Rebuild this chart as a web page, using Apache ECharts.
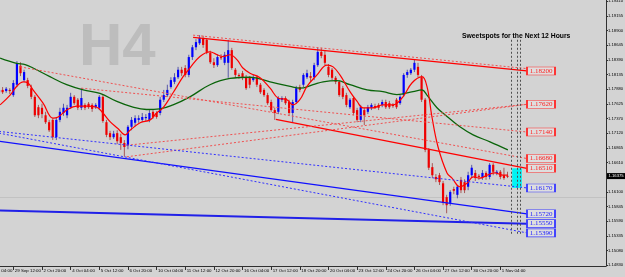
<!DOCTYPE html>
<html><head><meta charset="utf-8">
<script src="https://cdn.jsdelivr.net/npm/echarts@6/dist/echarts.min.js"></script>
<style>html,body{margin:0;padding:0;background:#d3d3d3;}#c{width:625px;height:277px;}</style>
</head><body><div id="c"></div>
<script>
// ---- axis ticks ----
const xTickBars = [0,8,16,24,32,40,48,56,64,72,80,88,96,104,112,120,128,136,144];
const xTickLabels = ['28 Sep 04:00','29 Sep 12:00','2 Oct 20:00','4 Oct 04:00','5 Oct 12:00','6 Oct 20:00','10 Oct 04:00','11 Oct 12:00','12 Oct 20:00','16 Oct 04:00','17 Oct 12:00','18 Oct 20:00','20 Oct 04:00','23 Oct 12:00','24 Oct 20:00','26 Oct 04:00','27 Oct 12:00','30 Oct 20:00','1 Nov 04:00'];
const yTickLabels = ['1.14830','1.15080','1.15335','1.15590','1.15845','1.16100','1.16355','1.16610','1.16865','1.17120','1.17370','1.17625','1.17880','1.18135','1.18390','1.18645','1.18900','1.19155','1.19410'];

// ---- H4 candles (bar index starts at FIRST_BAR) ----
const FIRST_BAR = 4;
const opens = [
1.1783,1.1787,1.1785,1.1787,1.1778,1.1796,1.1829,1.1804,1.1804,1.1790,
1.1775,1.1757,1.1756,1.1743,1.1731,1.1735,1.1705,1.1735,1.1747,1.1743,
1.1757,1.1775,1.1770,1.1756,1.1761,1.1763,1.1761,1.1757,1.1756,1.1775,
1.1731,1.1712,1.1705,1.1712,1.1705,1.1695,1.1691,1.1723,1.1730,1.1735,
1.1735,1.1738,1.1735,1.1749,1.1747,1.1747,1.1770,1.1778,1.1792,1.1801,
1.1809,1.1822,1.1825,1.1813,1.1844,1.1861,1.1868,1.1877,1.1874,1.1851,
1.1835,1.1830,1.1844,1.1834,1.1834,1.1856,1.1822,1.1813,1.1816,1.1809,
1.1808,1.1804,1.1809,1.1796,1.1787,1.1778,1.1766,1.1752,1.1749,1.1770,
1.1773,1.1766,1.1747,1.1766,1.1792,1.1796,1.1809,1.1811,1.1809,1.1830,
1.1853,1.1848,1.1827,1.1822,1.1808,1.1801,1.1790,1.1778,1.1757,1.1773,
1.1752,1.1735,1.1752,1.1749,1.1756,1.1759,1.1761,1.1761,1.1766,1.1764,
1.1761,1.1770,1.1764,1.1778,1.1813,1.1816,1.1822,1.1827,1.1809,1.1770,
1.1683,1.1653,1.1636,1.1639,1.1625,1.1601,1.1591,1.1615,1.1605,1.1631,
1.1627,1.1619,1.1639,1.1643,1.1638,1.1636,1.1643,1.1636,1.1657,1.1643,
1.1645,1.1639,1.1638];
const closes = [
1.1787,1.1783,1.1789,1.1785,1.1799,1.1832,1.1816,1.1818,1.1794,1.1775,
1.1743,1.1743,1.1745,1.1731,1.1717,1.1705,1.1735,1.1749,1.1756,1.1756,
1.1775,1.1764,1.1756,1.1773,1.1756,1.1757,1.1754,1.1761,1.1775,1.1733,
1.1709,1.1705,1.1711,1.1698,1.1695,1.1688,1.1723,1.1735,1.1738,1.1738,
1.1740,1.1740,1.1747,1.1740,1.1740,1.1770,1.1778,1.1787,1.1804,1.1809,
1.1822,1.1816,1.1813,1.1844,1.1861,1.1870,1.1877,1.1865,1.1853,1.1835,
1.1830,1.1844,1.1842,1.1848,1.1856,1.1825,1.1813,1.1811,1.1808,1.1790,
1.1796,1.1809,1.1796,1.1783,1.1778,1.1764,1.1752,1.1747,1.1773,1.1773,
1.1764,1.1747,1.1766,1.1790,1.1787,1.1813,1.1816,1.1808,1.1830,1.1853,
1.1846,1.1834,1.1813,1.1808,1.1801,1.1778,1.1775,1.1761,1.1770,1.1747,
1.1735,1.1757,1.1743,1.1757,1.1761,1.1757,1.1756,1.1766,1.1757,1.1757,
1.1759,1.1757,1.1775,1.1813,1.1818,1.1822,1.1834,1.1813,1.1770,1.1683,
1.1652,1.1639,1.1632,1.1627,1.1591,1.1587,1.1610,1.1612,1.1619,1.1613,
1.1613,1.1639,1.1652,1.1634,1.1636,1.1643,1.1636,1.1657,1.1645,1.1645,
1.1636,1.1634,1.16375];
const lows = [
1.1778,1.1780,1.1782,1.1780,1.1775,1.1792,1.1811,1.1801,1.1790,1.1771,
1.1740,1.1738,1.1738,1.1728,1.1714,1.1700,1.1700,1.1731,1.1742,1.1738,
1.1754,1.1761,1.1752,1.1752,1.1752,1.1754,1.1749,1.1754,1.1752,1.1730,
1.1705,1.1700,1.1702,1.1693,1.1683,1.1671,1.1684,1.1717,1.1724,1.1730,
1.1731,1.1733,1.1731,1.1737,1.1737,1.1743,1.1766,1.1775,1.1789,1.1797,
1.1806,1.1811,1.1809,1.1809,1.1839,1.1856,1.1865,1.1860,1.1849,1.1832,
1.1825,1.1827,1.1839,1.1830,1.1808,1.1822,1.1808,1.1806,1.1804,1.1787,
1.1790,1.1801,1.1792,1.1780,1.1775,1.1761,1.1749,1.1735,1.1745,1.1766,
1.1761,1.1743,1.1731,1.1763,1.1783,1.1792,1.1806,1.1801,1.1804,1.1827,
1.1842,1.1830,1.1809,1.1804,1.1797,1.1775,1.1771,1.1757,1.1754,1.1743,
1.1731,1.1731,1.1726,1.1745,1.1752,1.1754,1.1752,1.1757,1.1754,1.1754,
1.1756,1.1754,1.1761,1.1775,1.1808,1.1813,1.1818,1.1809,1.1766,1.1679,
1.1648,1.1634,1.1627,1.1622,1.1587,1.1573,1.1586,1.1606,1.1599,1.1608,
1.1608,1.1613,1.1634,1.1629,1.1631,1.1631,1.1631,1.1632,1.1639,1.1639,
1.1632,1.1631,1.1634];
const highs = [
1.1790,1.1792,1.1792,1.1790,1.1804,1.1837,1.1835,1.1822,1.1808,1.1796,
1.1778,1.1761,1.1763,1.1749,1.1735,1.1738,1.1740,1.1756,1.1763,1.1761,
1.1782,1.1778,1.1773,1.1790,1.1764,1.1766,1.1764,1.1764,1.1778,1.1778,
1.1735,1.1716,1.1716,1.1717,1.1711,1.1700,1.1726,1.1740,1.1743,1.1743,
1.1747,1.1745,1.1752,1.1752,1.1750,1.1775,1.1787,1.1796,1.1809,1.1816,
1.1827,1.1827,1.1830,1.1848,1.1865,1.1875,1.1882,1.1881,1.1877,1.1855,
1.1842,1.1849,1.1849,1.1853,1.1874,1.1860,1.1825,1.1816,1.1820,1.1813,
1.1811,1.1813,1.1813,1.1799,1.1790,1.1782,1.1770,1.1756,1.1776,1.1776,
1.1776,1.1770,1.1770,1.1794,1.1796,1.1816,1.1822,1.1818,1.1834,1.1860,
1.1860,1.1856,1.1832,1.1825,1.1811,1.1804,1.1794,1.1782,1.1773,1.1776,
1.1756,1.1761,1.1756,1.1761,1.1764,1.1763,1.1764,1.1770,1.1770,1.1768,
1.1764,1.1773,1.1778,1.1816,1.1822,1.1825,1.1839,1.1834,1.1813,1.1773,
1.1686,1.1660,1.1641,1.1643,1.1629,1.1605,1.1613,1.1619,1.1622,1.1636,
1.1632,1.1645,1.1657,1.1648,1.1641,1.1648,1.1646,1.1660,1.1660,1.1648,
1.1648,1.1652,1.1645];

// ---- moving averages (bar position, price) ----
const maFastBars = [4.3,7.1,8.9,10.8,12.1,13.5,16.3,19.1,20.5,22.9,25.7,28.5,31.3,33.0,35.0,37.2,39.2,40.6,43.4,46.2,48.0,49.8,52.6,55.4,57.3,60.1,62.9,64.9,66.5,68.5,70.5,72.1,74.1,76.9,79.7,81.9,84.4,86.1,88.0,90.0,92.8,95.6,97.3,99.2,102.0,104.0,105.6,108.4,111.2,114.0,116.8,119.3,122.1,123.5,124.9,126.6,129.1,130.5,132.7,134.7,136.4,138.3,140.3,142.5,144.7,146.1];
const maFastValues = [1.1761,1.1778,1.1793,1.1801,1.1799,1.1787,1.1764,1.1738,1.1740,1.1752,1.1759,1.1759,1.1757,1.1747,1.1732,1.1720,1.1709,1.1717,1.1730,1.1735,1.1747,1.1756,1.1782,1.1810,1.1825,1.1845,1.1853,1.1848,1.1845,1.1848,1.1839,1.1825,1.1816,1.1808,1.1790,1.1773,1.1770,1.1761,1.1770,1.1793,1.1813,1.1830,1.1827,1.1813,1.1784,1.1767,1.1756,1.1756,1.1761,1.1761,1.1775,1.1799,1.1810,1.1793,1.1740,1.1688,1.1643,1.1634,1.1619,1.1625,1.1636,1.1634,1.1639,1.1643,1.1639,1.1639];
const maSlowBars = [4.3,8.9,11.3,13.5,18.2,22.9,27.5,32.2,36.9,41.4,45.2,48.9,52.6,57.3,62.9,68.5,74.1,79.7,85.3,88.0,91.7,94.5,98.4,102.0,106.8,111.2,115.1,119.6,122.1,123.5,126.3,129.1,132.7,136.4,141.1,146.1];
const maSlowValues = [1.1842,1.1833,1.1831,1.1825,1.1810,1.1796,1.1787,1.1781,1.1767,1.1757,1.1753,1.1754,1.1761,1.1775,1.1796,1.1807,1.1809,1.1801,1.1793,1.1790,1.1796,1.1801,1.1803,1.1796,1.1787,1.1784,1.1779,1.1784,1.1787,1.1778,1.1756,1.1741,1.1723,1.1709,1.1697,1.1683];

// ---- trend lines [startBar, startPrice, endBar, endPrice] ----
const redSolidLines = [[58.2,1.1878,151.4,1.1820],[81.3,1.1736,151.4,1.1651]];
const redDottedLines = [[58.2,1.1882,151.4,1.1824],[9.9,1.1827,151.4,1.1668],[39.7,1.1691,151.4,1.1762],[39.7,1.1671,151.4,1.1762],[27,1.1790,151.4,1.1714]];
const blueSolidLines = [[4,1.1698,151.4,1.1572]];
const blueThickLines = [[4,1.1578,151.4,1.1555]];
const blueDottedLines = [[4,1.1712,151.4,1.1539],[4,1.1715,151.4,1.1617]];
const vLineBars = [147.0,148.6,149.5];
const vLinePrices = [1.1874,1.1535];

// ---- levels / zone ----
const redLevels = [1.18200,1.17620,1.17140,1.16680,1.16510];
const blueLevels = [1.16170,1.15720,1.15550,1.15390];
const zoneBars = [147.3,150.0];
const zonePrices = [1.16510,1.16170];
const bidPrice = 1.16375;

// ---- layout constants ----
const LABEL_BAR = 155.35;
const Y_MIN = 1.14815, Y_MAX = 1.1943;
const FONT = '"Liberation Sans", Arial, sans-serif';

const chart = echarts.init(document.getElementById('c'), null, {renderer:'canvas'});
const candleData = opens.map((o,k)=>[FIRST_BAR+k, o, closes[k], lows[k], highs[k]]);
const seg = arr => arr.map(a=>({coords:[[a[0],a[1]],[a[2],a[3]]]}));
const vSegs = vLineBars.map(b=>({coords:[[b,vLinePrices[0]],[b,vLinePrices[1]]]}));
const yTickValues = yTickLabels.map(Number);

function linesSeries(data, color, width, type, z){
  return {type:'lines', coordinateSystem:'cartesian2d', polyline:false, silent:true, z:z||5,
    data:seg(data), lineStyle:{color, width, type, opacity:1}, effect:{show:false}};
}
function levelSeries(levels, border, text){
  return {type:'scatter', silent:true, z:7, symbol:'rect', symbolSize:[28,8],
    data: levels.map(p=>[LABEL_BAR,p]),
    itemStyle:{color:'#dedede', borderColor:border, borderWidth:1, opacity:1},
    label:{show:true, position:'inside', formatter:p=>p.value[1].toFixed(5), color:text, fontSize:7, fontFamily:'"Liberation Serif", serif'}};
}

chart.setOption({
  animation:false,
  backgroundColor:'#d3d3d3',
  grid:{left:-15.3, right:19, top:0, bottom:11, containLabel:false, outerBoundsMode:'none'},
  xAxis:{type:'value', min:0, max:173.5,
    axisLine:{show:true, onZero:false, lineStyle:{color:'#303030', width:1}},
    axisTick:{show:true, customValues:xTickBars, length:4, lineStyle:{color:'#303030'}},
    axisLabel:{customValues:xTickBars, hideOverlap:false, showMinLabel:true, showMaxLabel:true,
      formatter:v=>{const k=xTickBars.indexOf(v); return k>=0?xTickLabels[k]:'';},
      align:'left', margin:2.5, padding:[0,0,0,1.5], fontSize:4.4, color:'#000', fontFamily:FONT},
    splitLine:{show:false}},
  yAxis:[
    {type:'value', position:'right', min:Y_MIN, max:Y_MAX, scale:true,
      axisLine:{show:true, onZero:false, lineStyle:{color:'#303030', width:1}},
      axisTick:{show:true, customValues:yTickValues, length:2, lineStyle:{color:'#303030'}},
      axisLabel:{customValues:yTickValues, hideOverlap:false,
        formatter:v=>{const k=yTickValues.findIndex(t=>Math.abs(t-v)<1e-7); return k>=0?yTickLabels[k]:'';},
        margin:2, fontSize:4.2, color:'#000', fontFamily:FONT},
      splitLine:{show:false}},
    {type:'value', position:'right', min:Y_MIN, max:Y_MAX, scale:true,
      axisLine:{show:false}, axisTick:{show:false, customValues:[bidPrice]},
      axisLabel:{customValues:[bidPrice], hideOverlap:false, formatter:()=>bidPrice.toFixed(5),
        margin:1, fontSize:4.2, color:'#fff', backgroundColor:'#000', padding:[1,1.5], fontFamily:FONT},
      splitLine:{show:false}}
  ],
  graphic:[
    {type:'text', x:79, y:48, z:0, silent:true, style:{text:'H4', font:'bold 60px '+FONT, fill:'#bdbdbd', verticalAlign:'middle'}},
    {type:'text', x:462, y:36.5, z:100, silent:true, style:{text:'Sweetspots for the Next 12 Hours', font:'bold 6.8px '+FONT, fill:'#000', verticalAlign:'middle'}}
  ],
  series:[
    {type:'custom', name:'candles', z:3, clip:true, silent:true,
      data:candleData, encode:{x:0, y:[1,2,3,4]},
      renderItem:(params, api)=>{
        const i=api.value(0), o=api.value(1), c=api.value(2), l=api.value(3), h=api.value(4);
        const po=api.coord([i,o]), pc=api.coord([i,c]), pl=api.coord([i,l]), ph=api.coord([i,h]);
        const up = c>=o; const w=2.2;
        const top=Math.min(po[1],pc[1]); const hh=Math.max(1,Math.abs(po[1]-pc[1]));
        return {type:'group', children:[
          {type:'line', shape:{x1:po[0],y1:ph[1],x2:po[0],y2:pl[1]}, style:{stroke: up?'#5858a8':'#a85858', lineWidth:1}},
          {type:'rect', shape:{x:po[0]-w/2, y:top, width:w, height:hh}, style:{fill: up?'#0000ff':'#ee0000'}}
        ]};
      }},
    {type:'line', name:'slowMA', z:4, silent:true, showSymbol:false, smooth:0.4,
      data:maSlowBars.map((b,k)=>[b,maSlowValues[k]]), lineStyle:{color:'#0a640a', width:1.3},
      markLine:{silent:true, symbol:['none','none'], animation:false, z:1,
        data:[{yAxis:bidPrice}], lineStyle:{color:'#c2c2c2', type:'solid', width:1},
        label:{show:false}},
      markArea:{silent:true, data:[[{coord:[zoneBars[0],zonePrices[0]]},{coord:[zoneBars[1],zonePrices[1]]}]], itemStyle:{color:'#00f4f4', opacity:1}}},
    {type:'line', name:'fastMA', z:4, silent:true, showSymbol:false, smooth:0.4,
      data:maFastBars.map((b,k)=>[b,maFastValues[k]]), lineStyle:{color:'#ff0000', width:1.2}},
    linesSeries(redSolidLines, '#ff0000', 1.3, 'solid'),
    linesSeries(redDottedLines, '#f05050', 1, [2,2]),
    linesSeries(blueSolidLines, '#1010ff', 1.2, 'solid'),
    linesSeries(blueThickLines, '#2020e8', 2, 'solid'),
    linesSeries(blueDottedLines, '#3030ff', 1, [2,2]),
    {type:'lines', coordinateSystem:'cartesian2d', silent:true, z:5, data:vSegs, lineStyle:{color:'#505050', width:1, type:[2,2], opacity:1}},
    levelSeries(redLevels, '#ff2a2a', '#ff2020'),
    levelSeries(blueLevels, '#3a3aff', '#2020ff')
  ]
});
</script></body></html>
